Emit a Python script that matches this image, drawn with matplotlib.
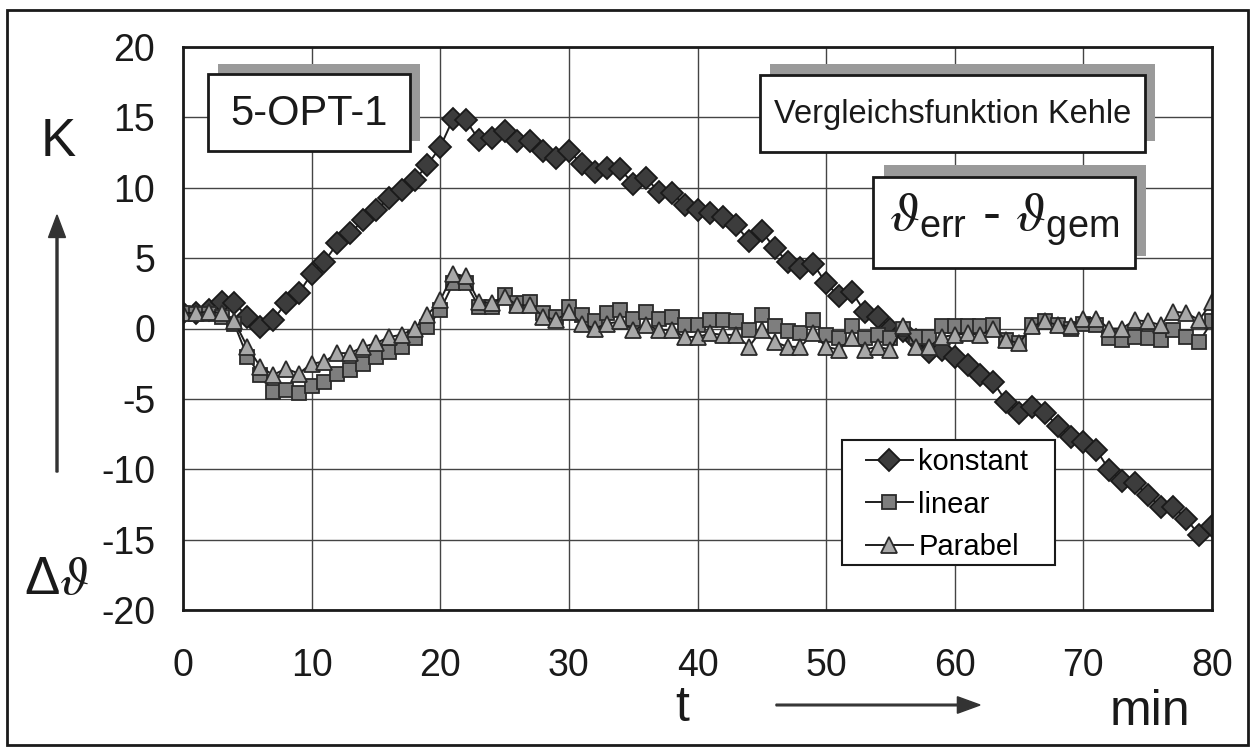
import matplotlib
matplotlib.use("Agg")
import matplotlib.pyplot as plt
from matplotlib.patches import Rectangle, FancyArrow
import numpy as np

plt.rcParams['font.family'] = ['Liberation Sans', 'DejaVu Sans']
plt.rcParams['mathtext.fontset'] = 'custom'
plt.rcParams['mathtext.rm'] = 'Liberation Sans'
plt.rcParams['mathtext.it'] = 'STIXGeneral:italic'
plt.rcParams['axes.unicode_minus'] = False

# time in minutes
t = np.arange(0, 81)

konstant = [1.1, 1.1, 1.3, 1.9, 1.8, 0.85, 0.1, 0.6, 1.8, 2.5,
            3.9, 4.75, 6.05, 6.75, 7.7, 8.4, 9.25, 9.85, 10.55, 11.6,
            12.9, 14.9, 14.8, 13.4, 13.5, 14.0, 13.3, 13.3, 12.6, 12.1,
            12.6, 11.7, 11.15, 11.4, 11.3, 10.3, 10.7, 9.7, 9.6, 8.8,
            8.4, 8.2, 7.95, 7.35, 6.2, 6.9, 5.7, 4.75, 4.3, 4.6,
            3.2, 2.3, 2.6, 1.2, 0.85, 0.0, -0.2, -0.8, -1.65, -1.5,
            -2.0, -2.6, -3.3, -3.8, -5.2, -6.0, -5.55, -6.0, -6.9, -7.7,
            -8.05, -8.6, -10.05, -10.8, -11.0, -11.8, -12.7, -12.7, -13.5, -14.7,
            -14.0]

linear = [1.1, 1.0, 1.0, 0.85, 0.3, -2.0, -3.3, -4.5, -4.4, -4.6,
          -4.1, -3.8, -3.2, -2.95, -2.5, -2.0, -1.65, -1.3, -0.7, 0.1,
          1.3, 3.2, 3.2, 1.55, 1.55, 2.4, 1.8, 1.9, 1.1, 0.85,
          1.55, 0.95, 0.5, 1.1, 1.3, 0.7, 1.2, 0.7, 0.85, 0.25,
          0.25, 0.6, 0.6, 0.5, -0.1, 0.95, 0.15, -0.2, -0.35, 0.6,
          -0.45, -0.7, 0.15, -0.7, -0.45, -0.7, 0.0, -0.6, -0.6, 0.15,
          0.15, 0.15, 0.15, 0.25, -0.8, -1.05, 0.25, 0.5, 0.25, 0.0,
          0.35, 0.25, -0.7, -0.8, -0.6, -0.7, -0.8, -0.1, -0.6, -0.95,
          0.5]

parabel = [1.1, 1.1, 1.2, 1.1, 0.5, -1.3, -2.7, -3.3, -2.85, -3.2,
           -2.5, -2.35, -1.75, -1.75, -1.3, -1.05, -0.6, -0.45, 0.0, 0.95,
           2.0, 3.9, 3.7, 1.9, 1.8, 2.25, 1.65, 1.65, 0.85, 0.6,
           1.2, 0.35, 0.0, 0.35, 0.5, -0.1, 0.25, -0.1, -0.1, -0.6,
           -0.6, -0.35, -0.45, -0.45, -1.3, -0.1, -0.95, -1.3, -1.3, -0.35,
           -1.3, -1.5, -0.7, -1.5, -1.3, -1.5, 0.15, -1.3, -1.3, -0.6,
           -0.45, -0.35, -0.45, 0.0, -0.8, -1.05, 0.15, 0.5, 0.25, 0.15,
           0.7, 0.7, 0.0, 0.0, 0.6, 0.5, 0.25, 1.2, 1.1, 0.6,
           1.9]

x_ticks = [0, 10, 20, 30, 40, 50, 60, 70, 80]
y_ticks = [-20, -15, -10, -5, 0, 5, 10, 15, 20]

W, H = 1255, 749
fig = plt.figure(figsize=(W / 100, H / 100), dpi=100)


def fx(x):
    return x / W


def fy(y):
    return 1 - y / H


ax = fig.add_axes([fx(183), fy(610), fx(1212) - fx(183), fy(47) - fy(610)])

line_kw = dict(color='#1e1e1e', lw=1.4)
ax.plot(t, konstant, marker='D', ms=11, mfc='#3c3c3c', mec='#1a1a1a', mew=1.3,
        label='konstant', **line_kw)
ax.plot(t, linear, marker='s', ms=10, mfc='#7e7e7e', mec='#2a2a2a', mew=1.3,
        label='linear', **line_kw)
ax.plot(t, parabel, marker='^', ms=11, mfc='#a8a8a8', mec='#2a2a2a', mew=1.3,
        label='Parabel', **line_kw)

ax.set_xlim(0, 80)
ax.set_ylim(-20, 20)
ax.set_xticks(x_ticks)
ax.set_yticks(y_ticks)
ax.grid(True, color='#444444', lw=1.0)
ax.set_axisbelow(True)
ax.tick_params(axis='both', length=0, labelsize=27, colors='#1a1a1a')
ax.tick_params(axis='y', pad=20)
ax.tick_params(axis='x', pad=27)
for s in ax.spines.values():
    s.set_linewidth(2)
    s.set_color('#1a1a1a')

# legend frame drawn separately so the entries can sit with a wider left margin
ax.add_patch(Rectangle((fx(842), fy(565)), fx(1055) - fx(842), fy(440) - fy(565),
                       transform=fig.transFigure, facecolor='white',
                       edgecolor='#1a1a1a', lw=1.5, zorder=4.9, clip_on=False))
leg = ax.legend(loc='upper left', bbox_to_anchor=(fx(866), fy(448)),
                bbox_transform=fig.transFigure, borderaxespad=0,
                fontsize=21, frameon=False, handlelength=1.6, handletextpad=0.2,
                labelspacing=0.5, borderpad=0)
leg.set_zorder(5)


def shadow_box(x0, y0, x1, y1, dx, dy, text, size, tx=None, ty=None):
    fig.patches.append(Rectangle((fx(x0 + dx), fy(y1 + dy)), fx(x1) - fx(x0),
                                 fy(y0) - fy(y1), transform=fig.transFigure,
                                 facecolor='#9a9a9a', edgecolor='none', zorder=5))
    fig.patches.append(Rectangle((fx(x0), fy(y1)), fx(x1) - fx(x0),
                                 fy(y0) - fy(y1), transform=fig.transFigure,
                                 facecolor='white', edgecolor='#1a1a1a', lw=2, zorder=6))
    cx = (x0 + x1) / 2 if tx is None else tx
    cy = (y0 + y1) / 2 if ty is None else ty
    fig.text(fx(cx), fy(cy), text, fontsize=size, ha='center', va='center',
             color='#1a1a1a', zorder=7)


shadow_box(208, 74, 410, 151, 10, -10, '5-OPT-1', 30, ty=114)
shadow_box(760, 75, 1145, 152, 10, -11, 'Vergleichsfunktion Kehle', 23.5, ty=114)
shadow_box(873, 177, 1135, 268, 11, -12,
           r'$\vartheta_{\mathrm{err}}$ - $\vartheta_{\mathrm{gem}}$', 39, ty=220)

# axis annotations
fig.text(fx(58), fy(142), 'K', fontsize=38, ha='center', va='center', color='#1a1a1a')
fig.text(fx(56), fy(580), r'$\Delta\vartheta$', fontsize=38, ha='center', va='center',
         color='#1a1a1a')
fig.text(fx(682), fy(708), 't', fontsize=36, ha='center', va='center', color='#1a1a1a')
fig.text(fx(1150), fy(712), 'min', fontsize=36, ha='center', va='center', color='#1a1a1a')

fig.patches.append(FancyArrow(fx(57), fy(472), 0, fy(215) - fy(472),
                              width=0.0016, head_width=0.0135, head_length=0.03,
                              length_includes_head=True, transform=fig.transFigure,
                              color='#333333'))
fig.patches.append(FancyArrow(fx(776), fy(705), fx(980) - fx(776), 0,
                              width=0.0022, head_width=0.022, head_length=0.018,
                              length_includes_head=True, transform=fig.transFigure,
                              color='#333333'))

# outer frame
fig.patches.append(Rectangle((fx(7), fy(745)), fx(1248) - fx(7), fy(10) - fy(745),
                             transform=fig.transFigure, facecolor='none',
                             edgecolor='#1a1a1a', lw=2))

fig.savefig('out.png', dpi=100)
